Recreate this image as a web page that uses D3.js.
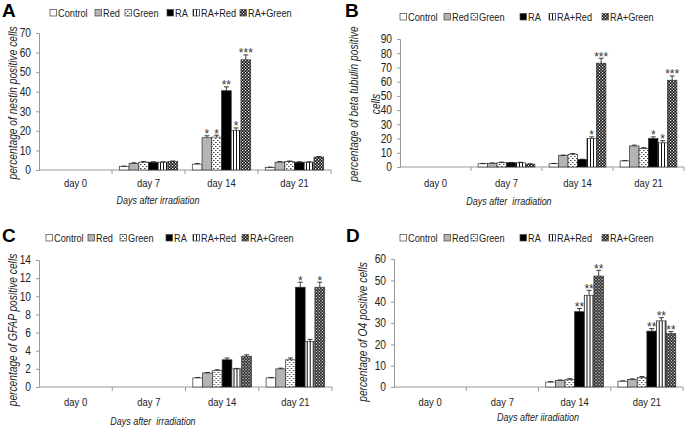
<!DOCTYPE html>
<html><head><meta charset="utf-8">
<script src="https://cdn.jsdelivr.net/npm/d3@7"></script>
<style>
body{margin:0;background:#fff;}
svg{display:block;font-family:"Liberation Sans",Arial,sans-serif;}
</style></head><body>
<svg id="chart" width="685" height="429"></svg>
<script>
// ---- data ----
const categories = ["day 0", "day 7", "day 14", "day 21"];
const series = ["Control", "Red", "Green", "RA", "RA+Red", "RA+Green"];

// Panel A: nestin (rows = days, cols = series)
const nestinMeans = [
  [0, 0, 0, 0, 0, 0],
  [1.8, 3.4, 4.0, 4.0, 4.0, 4.3],
  [3.0, 16.5, 16.8, 40.5, 20.3, 56.3],
  [1.3, 4.0, 4.3, 4.0, 4.0, 6.6]
];
const nestinErrors = [
  [0, 0, 0, 0, 0, 0],
  [0.2, 0.3, 0.3, 0.2, 0.2, 0.3],
  [0.3, 1.0, 1.0, 2.0, 1.2, 2.5],
  [0.2, 0.3, 0.3, 0.2, 0.2, 0.3]
];
const nestinStars = [
  ["", "", "", "", "", ""],
  ["", "", "", "", "", ""],
  ["", "*", "*", "**", "*", "***"],
  ["", "", "", "", "", ""]
];

// Panel B: beta tubulin
const tubulinMeans = [
  [0, 0, 0, 0, 0, 0],
  [2.3, 2.6, 3.0, 3.0, 3.0, 2.0],
  [2.3, 8.0, 9.0, 5.3, 20.0, 73.0],
  [4.3, 14.8, 13.0, 20.0, 17.0, 61.0]
];
const tubulinErrors = [
  [0, 0, 0, 0, 0, 0],
  [0.2, 0.3, 0.4, 0.2, 0.3, 0.3],
  [0.2, 0.4, 0.5, 0.2, 1.2, 3.5],
  [0.2, 0.6, 0.6, 1.2, 1.5, 3.0]
];
const tubulinStars = [
  ["", "", "", "", "", ""],
  ["", "", "", "", "", ""],
  ["", "", "", "", "*", "***"],
  ["", "", "", "*", "*", "***"]
];

// Panel C: GFAP
const gfapMeans = [
  [0, 0, 0, 0, 0, 0],
  [0, 0, 0, 0, 0, 0],
  [1.0, 1.55, 1.8, 3.0, 2.0, 3.4],
  [1.0, 2.0, 3.0, 11.0, 5.0, 11.0]
];
const gfapErrors = [
  [0, 0, 0, 0, 0, 0],
  [0, 0, 0, 0, 0, 0],
  [0.05, 0.05, 0.1, 0.2, 0.05, 0.15],
  [0.05, 0.08, 0.2, 0.55, 0.25, 0.55]
];
const gfapStars = [
  ["", "", "", "", "", ""],
  ["", "", "", "", "", ""],
  ["", "", "", "", "", ""],
  ["", "", "", "*", "", "*"]
];

// Panel D: O4
const o4Means = [
  [0, 0, 0, 0, 0, 0],
  [0, 0, 0, 0, 0, 0],
  [2.3, 3.0, 3.5, 35.3, 43.0, 52.0],
  [2.7, 3.5, 4.5, 26.2, 31.0, 25.0]
];
const o4Errors = [
  [0, 0, 0, 0, 0, 0],
  [0, 0, 0, 0, 0, 0],
  [0.2, 0.3, 0.4, 1.5, 2.3, 2.7],
  [0.2, 0.3, 0.4, 1.2, 1.5, 1.0]
];
const o4Stars = [
  ["", "", "", "", "", ""],
  ["", "", "", "", "", ""],
  ["", "", "", "**", "**", "**"],
  ["", "", "", "**", "**", "**"]
];

const nestinTicks = [0, 10, 20, 30, 40, 50, 60, 70];
const tubulinTicks = [0, 10, 20, 30, 40, 50, 60, 70, 80, 90];
const gfapTicks = [0, 2, 4, 6, 8, 10, 12, 14];
const o4Ticks = [0, 10, 20, 30, 40, 50, 60];

// ---- drawing ----
const svg = d3.select("#chart");
const defs = svg.append("defs");

// Green: dotted
const pDots = defs.append("pattern").attr("id", "pDots").attr("patternUnits", "userSpaceOnUse")
  .attr("width", 4).attr("height", 4);
pDots.append("rect").attr("width", 4).attr("height", 4).attr("fill", "#fff");
pDots.append("rect").attr("x", 0).attr("y", 0).attr("width", 1.5).attr("height", 1).attr("fill", "#444");
pDots.append("rect").attr("x", 2).attr("y", 2).attr("width", 1.5).attr("height", 1).attr("fill", "#444");
// RA+Red: vertical stripes
const pStripe = defs.append("pattern").attr("id", "pStripe").attr("patternUnits", "userSpaceOnUse")
  .attr("width", 3).attr("height", 3);
pStripe.append("rect").attr("width", 3).attr("height", 3).attr("fill", "#fff");
pStripe.append("rect").attr("x", 0).attr("width", 1).attr("height", 3).attr("fill", "#111");
// RA+Green: checker
const pCheck = defs.append("pattern").attr("id", "pCheck").attr("patternUnits", "userSpaceOnUse")
  .attr("width", 3).attr("height", 3);
pCheck.append("rect").attr("width", 3).attr("height", 3).attr("fill", "#111");
pCheck.append("rect").attr("x", 0).attr("y", 0).attr("width", 1.2).attr("height", 1.2).attr("fill", "#fff");
pCheck.append("rect").attr("x", 1.5).attr("y", 1.5).attr("width", 1.2).attr("height", 1.2).attr("fill", "#fff");

const fills = ["#ffffff", "#b4b4b4", "url(#pDots)", "#000000", "url(#pStripe)", "url(#pCheck)"];
const color = d3.scaleOrdinal().domain(series).range(fills);

// condense text horizontally (reference uses a narrow face)
function condense(sel, f) {
  sel.each(function () {
    const w = this.getComputedTextLength();
    if (w > 0) d3.select(this).attr("textLength", w * f).attr("lengthAdjust", "spacingAndGlyphs");
  });
}

const panels = [
  { letter: "A", lx: 2, ly: 17, x0: 39, x1: 331, yb: 170, yt: 33, max: 70, ticks: nestinTicks,
    means: nestinMeans, errs: nestinErrors, stars: nestinStars,
    legY: 13, legX: [50, 95, 125, 167, 193, 240],
    ylab: ["percentage of nestin positive cells"], ylx: [13], yly: 103,
    catY: 187, xlab: "Days after irradiation", xlx: 158, xly: 204 },
  { letter: "B", lx: 345, ly: 17, x0: 400, x1: 684, yb: 167, yt: 39, max: 90, ticks: tubulinTicks,
    means: tubulinMeans, errs: tubulinErrors, stars: tubulinStars,
    legY: 17, legX: [400, 444, 471, 520, 549, 602],
    ylab: ["percentage of beta tubulin positive", "cells"], ylx: [354, 376], yly: 104,
    catY: 187, xlab: "Days after  irradiation", xlx: 509, xly: 205 },
  { letter: "C", lx: 2, ly: 242, x0: 39, x1: 332, yb: 387, yt: 260, max: 14, ticks: gfapTicks,
    means: gfapMeans, errs: gfapErrors, stars: gfapStars,
    legY: 238, legX: [46, 88, 120, 166, 193, 242],
    ylab: ["percentage of GFAP positive cells"], ylx: [13], yly: 330,
    catY: 406, xlab: "Days after  irradiation", xlx: 153, xly: 425 },
  { letter: "D", lx: 346, ly: 242, x0: 394, x1: 683, yb: 387, yt: 259, max: 60, ticks: o4Ticks,
    means: o4Means, errs: o4Errors, stars: o4Stars,
    legY: 238, legX: [400, 444, 471, 520, 549, 602],
    ylab: ["percentage of O4 positive cells"], ylx: [363], yly: 332,
    catY: 406, xlab: "Days after iiradiation", xlx: 538, xly: 421 }
];

const txt = "#222";
panels.forEach(p => {
  const g = svg.append("g");
  const x = d3.scaleBand().domain(categories).range([p.x0, p.x1]).padding(0);
  const y = d3.scaleLinear().domain([0, p.max]).range([p.yb, p.yt]);
  const bw = x.bandwidth();
  const xi = d3.scaleBand().domain(series).range([bw * 0.1, bw * 0.9]).padding(0);

  // letter
  g.append("text").attr("x", p.lx).attr("y", p.ly)
    .attr("font-weight", "bold").attr("font-size", 19).attr("fill", "#000").text(p.letter);

  // legend
  series.forEach((s, i) => {
    const lg = g.append("g").attr("transform", `translate(${p.legX[i]},${p.legY})`);
    lg.append("rect").attr("x", 0).attr("y", -3.5).attr("width", 6.5).attr("height", 6.5)
      .attr("fill", color(s)).attr("stroke", "#444").attr("stroke-width", 0.7);
    lg.append("text").attr("x", 8).attr("y", 0).attr("dy", "0.35em").attr("font-size", 11.5)
      .attr("fill", txt).text(s).call(condense, 0.8);
  });

  // y axis
  const yAxis = d3.axisLeft(y).tickValues(p.ticks).tickSize(3).tickPadding(5).tickFormat(d3.format("d"));
  const ya = g.append("g").attr("transform", `translate(${p.x0},0)`).call(yAxis);
  ya.select(".domain").attr("stroke", "#999");
  ya.selectAll(".tick line").attr("stroke", "#999");
  ya.selectAll(".tick text").attr("font-size", 12).attr("fill", txt).attr("font-family", "Liberation Sans, Arial, sans-serif")
    .call(condense, 0.85);

  // x axis
  const xa = g.append("g").attr("transform", `translate(0,${p.yb})`);
  xa.append("line").attr("x1", p.x0).attr("x2", p.x1).attr("stroke", "#999");
  categories.forEach((c, i) => {
    if (i > 0) xa.append("line").attr("x1", x(c)).attr("x2", x(c)).attr("y1", 0).attr("y2", 4).attr("stroke", "#999");
  });
  xa.append("line").attr("x1", p.x1).attr("x2", p.x1).attr("y1", 0).attr("y2", 4).attr("stroke", "#999");
  categories.forEach(c => {
    g.append("text").attr("x", x(c) + bw / 2).attr("y", p.catY).attr("text-anchor", "middle")
      .attr("font-size", 11.5).attr("fill", txt).text(c).call(condense, 0.82);
  });

  // bars
  categories.forEach((c, di) => {
    const cg = g.append("g").attr("transform", `translate(${x(c)},0)`);
    series.forEach((s, si) => {
      const v = p.means[di][si];
      if (v <= 0) return;
      const bx = xi(s), w = xi.bandwidth();
      cg.append("rect").attr("x", bx).attr("y", y(v)).attr("width", w).attr("height", y(0) - y(v))
        .attr("fill", color(s)).attr("stroke", "#333").attr("stroke-width", 0.7);
      const e = p.errs[di][si];
      const cx = bx + w / 2;
      if (e > 0) {
        cg.append("line").attr("x1", cx).attr("x2", cx).attr("y1", y(v)).attr("y2", y(v + e)).attr("stroke", "#111").attr("stroke-width", 0.8);
        cg.append("line").attr("x1", cx - 2.5).attr("x2", cx + 2.5).attr("y1", y(v + e)).attr("y2", y(v + e)).attr("stroke", "#111").attr("stroke-width", 0.8);
      }
      const st = p.stars[di][si];
      if (st) {
        cg.append("text").attr("x", cx).attr("y", y(v + e) + 2.5).attr("text-anchor", "middle")
          .attr("font-size", 12).attr("fill", "#333").attr("opacity", 0.99).text(st);
      }
    });
  });

  // y label
  p.ylab.forEach((t, i) => {
    g.append("text").attr("transform", `translate(${p.ylx[i]},${p.yly}) rotate(-90)`)
      .attr("text-anchor", "middle").attr("dy", "0.35em").attr("font-style", "italic")
      .attr("font-size", 12).attr("fill", txt).text(t).call(condense, 0.85);
  });
  // x label
  g.append("text").attr("x", p.xlx).attr("y", p.xly).attr("text-anchor", "middle")
    .attr("font-style", "italic").attr("font-size", 11.5).attr("fill", txt).style("white-space", "pre").text(p.xlab)
    .call(condense, 0.78);
});
</script>
</body></html>
